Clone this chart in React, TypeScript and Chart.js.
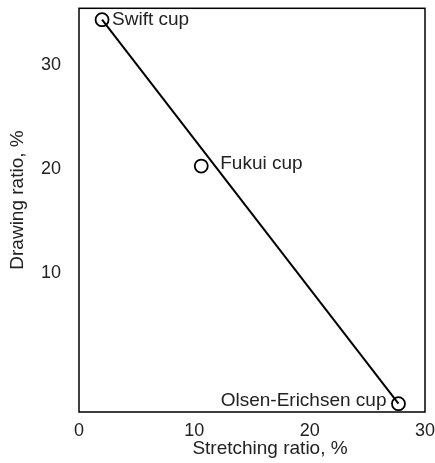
import React, { useEffect, useRef } from "react";
import { Chart, registerables } from "chart.js";

Chart.register(...registerables);

const cupNames = ["Swift cup", "Fukui cup", "Olsen-Erichsen cup"];
const stretchingRatio = [2.0, 10.6, 27.7];
const drawingRatio = [34.4, 20.3, -2.6];
const lineStretching = [2.0, 27.7];
const lineDrawing = [34.4, -2.6];
const xTicks = [0, 10, 20, 30];
const yTicks = [10, 20, 30];
const xTitle = "Stretching ratio, %";
const yTitle = "Drawing ratio, %";

const FONT = "Liberation Sans, Arial, Helvetica, sans-serif";
const labelOffsets = [
  { dx: 10, dy: 0, align: "left" },
  { dx: 19, dy: -2, align: "left" },
  { dx: -12, dy: -3, align: "right" },
];

export default function App() {
  const ref = useRef<HTMLCanvasElement | null>(null);
  useEffect(() => {
    if (!ref.current) return;
    const labelPlugin = {
      id: "labels",
      afterDraw(chart: any) {
        const { ctx, chartArea, scales } = chart;
        ctx.save();
        ctx.strokeStyle = "#000";
        ctx.lineWidth = 1.5;
        ctx.strokeRect(chartArea.left, chartArea.top, chartArea.right - chartArea.left, chartArea.bottom - chartArea.top);
        ctx.fillStyle = "#222";
        ctx.font = `19px ${FONT}`;
        ctx.textBaseline = "middle";
        cupNames.forEach((n, i) => {
          const px = scales.x.getPixelForValue(stretchingRatio[i]);
          const py = scales.y.getPixelForValue(drawingRatio[i]);
          const o = labelOffsets[i];
          ctx.textAlign = o.align;
          ctx.fillText(n, px + o.dx, py + o.dy);
        });
        ctx.textAlign = "center";
        ctx.fillText(xTitle, 270, 449);
        ctx.translate(18, 200);
        ctx.rotate(-Math.PI / 2);
        ctx.fillText(yTitle, 0, 0);
        ctx.restore();
      },
    };
    const chart = new Chart(ref.current, {
      type: "scatter",
      data: {
        datasets: [
          {
            data: lineStretching.map((x, i) => ({ x, y: lineDrawing[i] })),
            showLine: true,
            borderColor: "#000",
            borderWidth: 2,
            pointRadius: 0,
          },
          {
            data: stretchingRatio.map((x, i) => ({ x, y: drawingRatio[i] })),
            pointRadius: 6.5,
            pointBackgroundColor: "rgba(255,255,255,0)",
            pointBorderColor: "#000",
            pointBorderWidth: 1.8,
          },
        ],
      },
      options: {
        animation: false,
        responsive: false,
        layout: { padding: { top: 8, right: 10, left: 0, bottom: 0 } },
        plugins: { legend: { display: false }, tooltip: { enabled: false } },
        scales: {
          x: {
            type: "linear",
            min: 0,
            max: 30,
            afterBuildTicks: (s: any) => { s.ticks = xTicks.map((v) => ({ value: v })); },
            afterFit: (s: any) => { s.height = 51; s.paddingLeft = 0; s.paddingRight = 0; },
            grid: { display: false, drawTicks: false },
            border: { display: false },
            ticks: { color: "#222", font: { size: 18, family: FONT }, padding: 8, maxRotation: 0 },
          },
          y: {
            type: "linear",
            min: -3.4,
            max: 35.5,
            afterBuildTicks: (s: any) => { s.ticks = yTicks.map((v) => ({ value: v })); },
            afterFit: (s: any) => { s.width = 79; s.paddingTop = 0; s.paddingBottom = 0; },
            grid: { display: false, drawTicks: false },
            border: { display: false },
            ticks: { color: "#222", font: { size: 18, family: FONT }, padding: 18 },
          },
        },
      },
      plugins: [labelPlugin],
    } as any);
    return () => chart.destroy();
  }, []);
  return (
    <div style={{ position: "absolute", left: 0, top: 0, width: 435, height: 463, background: "#fff" }}>
      <canvas ref={ref} width={435} height={463} style={{ display: "block" }} />
    </div>
  );
}
